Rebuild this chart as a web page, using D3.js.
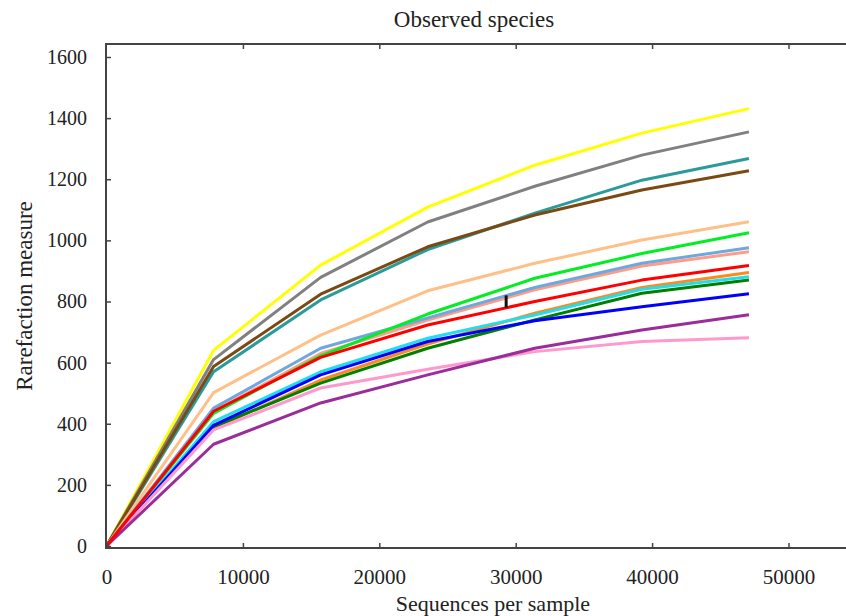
<!DOCTYPE html>
<html>
<head>
<meta charset="utf-8">
<script src="https://cdn.jsdelivr.net/npm/d3@7"></script>
<style>
  body { margin: 0; background: #fff; }
  text { font-family: "Liberation Serif", "DejaVu Serif", serif; fill: #222; }
</style>
</head>
<body>
<div id="chart"></div>
<script>
const width = 846
const height = 616

// sequencing depths where the rarefaction was sampled
const depths = [0, 7850, 15700, 23550, 31400, 39250, 47100]

// one curve per sample, in drawing order
const sampleColors = [
    '#ffff00', '#808080', '#2a9a9a', '#7b4a12', '#ffc088',
    '#ff9c88', '#6fa8dc', '#00ee22', '#ff8a1c', '#008000',
    '#22ddee', '#0000ff', '#ff99cc', '#9b2d9b', '#ff0000'
]
const sampleValues = [
    [0, 640, 919, 1109, 1246, 1351, 1431],
    [0, 610, 879, 1060, 1177, 1279, 1355],
    [0, 570, 805, 970, 1089, 1197, 1268],
    [0, 587, 824, 979, 1083, 1165, 1228],
    [0, 502, 690, 835, 925, 1001, 1061],
    [0, 440, 630, 739, 838, 916, 963],
    [0, 451, 647, 746, 846, 925, 976],
    [0, 434, 622, 759, 876, 957, 1025],
    [0, 385, 543, 661, 762, 846, 895],
    [0, 390, 533, 647, 740, 827, 870],
    [0, 407, 570, 680, 756, 840, 881],
    [0, 395, 560, 669, 737, 783, 825],
    [0, 380, 517, 578, 636, 669, 681],
    [0, 333, 468, 560, 647, 707, 757],
    [0, 441, 617, 723, 800, 870, 918]
]

// the single error mark on the red curve
const errorMark = { depth: 29300, low: 780, high: 820 }

const xTicks = [0, 10000, 20000, 30000, 40000, 50000]
const yTicks = [0, 200, 400, 600, 800, 1000, 1200, 1400, 1600]

const frame = { left: 106, right: 857, top: 44, bottom: 548 }

const x = d3.scaleLinear()
    .domain([0, 55000])
    .range([106.5, 856.7])

const y = d3.scaleLinear()
    .domain([0, 1600])
    .range([546, 57])

const svg = d3.select('#chart')
    .append('svg')
    .attr('width', width)
    .attr('height', height)

// curves
const line = d3.line()
    .x((d, i) => x(depths[i]))
    .y(d => y(d))

svg.append('g')
    .selectAll('path')
    .data(sampleValues)
    .enter()
    .append('path')
    .attr('d', line)
    .attr('fill', 'none')
    .attr('stroke', (d, i) => sampleColors[i])
    .attr('stroke-width', 3)
    .attr('stroke-linejoin', 'round')

svg.append('line')
    .attr('x1', x(errorMark.depth))
    .attr('x2', x(errorMark.depth))
    .attr('y1', y(errorMark.low))
    .attr('y2', y(errorMark.high))
    .attr('stroke', '#111')
    .attr('stroke-width', 3)

// frame
svg.append('rect')
    .attr('x', frame.left)
    .attr('y', frame.top)
    .attr('width', frame.right - frame.left)
    .attr('height', frame.bottom - frame.top)
    .attr('fill', 'none')
    .attr('stroke', '#444')
    .attr('stroke-width', 2)

// axes: ticks point inside the frame
const fmt = d3.format('d')
const xAxis = d3.axisBottom(x).tickValues(xTicks).tickFormat(fmt)
    .tickSizeInner(-5).tickSizeOuter(0).tickPadding(21)
svg.append('g')
    .attr('transform', `translate(0, ${frame.bottom})`)
    .call(xAxis)
    .call(g => g.select('.domain').remove())
    .call(g => g.selectAll('.tick line').attr('stroke', '#444').attr('stroke-width', 1.5))
    .call(g => g.selectAll('.tick text').attr('font-size', 21).attr('fill', '#222')
        .style('font-family', '"Liberation Serif", serif'))

svg.append('g')
    .attr('transform', `translate(0, ${frame.top})`)
    .call(d3.axisTop(x).tickValues(xTicks.slice(1)).tickSizeInner(-5).tickSizeOuter(0).tickFormat(''))
    .call(g => g.select('.domain').remove())
    .call(g => g.selectAll('.tick line').attr('stroke', '#444').attr('stroke-width', 1.5))

const yAxis = d3.axisLeft(y).tickValues(yTicks).tickFormat(fmt)
    .tickSizeInner(-5).tickSizeOuter(0).tickPadding(19)
svg.append('g')
    .attr('transform', `translate(${frame.left}, 0)`)
    .call(yAxis)
    .call(g => g.select('.domain').remove())
    .call(g => g.selectAll('.tick line').attr('stroke', '#444').attr('stroke-width', 1.5))
    .call(g => g.selectAll('.tick text').attr('font-size', 20).attr('fill', '#222')
        .style('font-family', '"Liberation Serif", serif'))

// titles
svg.append('text')
    .attr('x', 474)
    .attr('y', 27)
    .attr('text-anchor', 'middle')
    .attr('font-size', 23)
    .text('Observed species')

svg.append('text')
    .attr('x', 493)
    .attr('y', 611)
    .attr('text-anchor', 'middle')
    .attr('font-size', 22)
    .text('Sequences per sample')

svg.append('text')
    .attr('transform', 'translate(32, 296) rotate(-90)')
    .attr('text-anchor', 'middle')
    .attr('font-size', 23)
    .text('Rarefaction measure')
</script>
</body>
</html>
